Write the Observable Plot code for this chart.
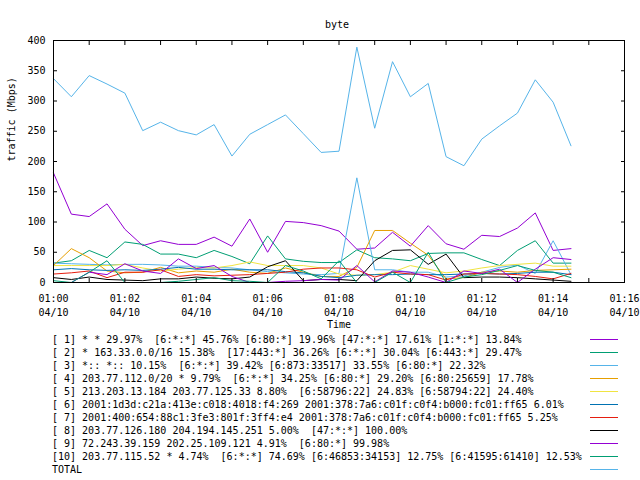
<!DOCTYPE html>
<html>
<head>
<meta charset="utf-8">
<script src="https://cdn.jsdelivr.net/npm/d3@7"></script>
<script src="https://cdn.jsdelivr.net/npm/@observablehq/plot@0.6"></script>
<style>
  html, body { margin: 0; padding: 0; background: #fff; }
  #wrap { width: 640px; height: 480px; position: relative; overflow: hidden; }
  #wrap svg { display: block; }
  .legend { position: relative; width: 640px; font-family: "DejaVu Sans Mono", monospace; font-size: 10px; color: #000; }
  .row { position: relative; height: 13px; line-height: 13px; white-space: pre; padding-left: 52px; }
  .sw { position: absolute; left: 590px; width: 28px; top: 6px; height: 0; border-top: 1px solid; }
</style>
</head>
<body>
<div id="wrap"></div>
<script>
// ---- data ----
const day = "2024-04-10";
const times = ["01:00:00","01:00:30","01:01:00","01:01:30","01:02:00","01:02:30","01:03:00","01:03:30","01:04:00","01:04:30",
               "01:05:00","01:05:30","01:06:00","01:06:30","01:07:00","01:07:30","01:08:00","01:08:30","01:09:00","01:09:30",
               "01:10:00","01:10:30","01:11:00","01:11:30","01:12:00","01:12:30","01:13:00","01:13:30","01:14:00","01:14:30"];

const s1  = [181,113,109,130,88,61,69,63,63,75,60,105,50,101,99,94,85,55,57,83,60,94,64,55,78,76,90,115,53,56];
const s2  = [32,36,53,41,67,63,47,47,41,53,43,31,77,39,35,33,33,54,41,39,36,48,49,49,38,28,53,69,32,32];
const s3  = [32,31,30,29,30,30,29,27,27,25,24,21,18,16,14,13,15,173,21,21,17,17,9,11,17,25,29,15,69,13];
const s4  = [28,56,41,19,16,17,25,16,19,17,22,17,15,24,17,10,10,25,86,86,65,45,6,8,17,19,17,20,21,22];
const s5  = [28,28,28,28,30,24,19,22,25,24,28,34,28,28,28,24,14,12,13,17,28,22,16,19,24,28,30,32,27,27];
const s6  = [21,23,21,20,21,20,22,25,22,22,21,21,21,18,16,10,8,12,13,13,14,13,13,14,15,14,15,17,17,13];
const s7  = [14,16,19,8,17,17,21,10,13,11,12,13,15,17,22,24,24,21,9,17,14,13,4,14,15,14,13,10,6,15];
const s8  = [8,5,9,5,4,3,6,6,9,7,6,9,26,36,3,5,5,3,36,53,54,30,47,8,9,9,8,6,4,2];
const s9  = [0,0,17,13,31,19,15,39,23,28,10,0,0,2,3,5,4,28,1,19,17,9,0,19,15,22,0,22,41,38];
const s10 = [3,0,17,36,0,0,0,2,5,8,3,2,0,28,19,6,36,0,0,17,0,50,0,9,13,20,28,20,17,8];
const total = [337,307,342,328,313,251,265,251,244,261,209,245,261,277,246,215,217,389,255,365,307,329,208,193,237,259,280,335,298,226];

const seriesNames = ["[ 1]","[ 2]","[ 3]","[ 4]","[ 5]","[ 6]","[ 7]","[ 8]","[ 9]","[10]","TOTAL"];
const seriesValues = [s1,s2,s3,s4,s5,s6,s7,s8,s9,s10,total];
const seriesColors = ["#9400d3","#009e73","#56b4e9","#e69f00","#f0e442","#0072b2","#e51e10","#000000","#9400d3","#009e73","#56b4e9"];
const legendLabels = [
  "[ 1] * * 29.97%  [6:*:*] 45.76% [6:80:*] 19.96% [47:*:*] 17.61% [1:*:*] 13.84%",
  "[ 2] * 163.33.0.0/16 15.38%  [17:443:*] 36.26% [6:*:*] 30.04% [6:443:*] 29.47%",
  "[ 3] *:: *:: 10.15%  [6:*:*] 39.42% [6:873:33517] 33.55% [6:80:*] 22.32%",
  "[ 4] 203.77.112.0/20 * 9.79%  [6:*:*] 34.25% [6:80:*] 29.20% [6:80:25659] 17.78%",
  "[ 5] 213.203.13.184 203.77.125.33 8.80%  [6:58796:22] 24.83% [6:58794:22] 24.40%",
  "[ 6] 2001:1d3d:c21a:413e:c018:4018:f4:269 2001:378:7a6:c01f:c0f4:b000:fc01:ff65 6.01%",
  "[ 7] 2001:400:654:88c1:3fe3:801f:3ff4:e4 2001:378:7a6:c01f:c0f4:b000:fc01:ff65 5.25%",
  "[ 8] 203.77.126.180 204.194.145.251 5.00%  [47:*:*] 100.00%",
  "[ 9] 72.243.39.159 202.25.109.121 4.91%  [6:80:*] 99.98%",
  "[10] 203.77.115.52 * 4.74%  [6:*:*] 74.69% [6:46853:34153] 12.75% [6:41595:61410] 12.53%",
  "TOTAL"
];
const yTicks = [0,50,100,150,200,250,300,350,400];
const xStart = "01:00:00", xEnd = "01:16:00";
const majorTickTimes = ["01:00","01:02","01:04","01:06","01:08","01:10","01:12","01:14","01:16"];
const minorTickTimes = ["01:00","01:01","01:02","01:03","01:04","01:05","01:06","01:07","01:08","01:09","01:10","01:11","01:12","01:13","01:14","01:15","01:16"];

// ---- build ----
const toDate = t => new Date(`${day}T${t.length === 5 ? t + ":00" : t}Z`);
const data = [];
seriesValues.forEach((vals, si) => {
  vals.forEach((v, i) => data.push({series: seriesNames[si], time: toDate(times[i]), value: v}));
});
const fmtHM = d3.utcFormat("%H:%M"), fmtMD = d3.utcFormat("%m/%d");

const chart = Plot.plot({
  width: 640,
  height: 333,
  marginTop: 40,
  marginLeft: 53,
  marginRight: 16,
  marginBottom: 51,
  style: {fontFamily: "'DejaVu Sans Mono', monospace", fontSize: "10px", background: "#fff", color: "#000"},
  x: {type: "utc", domain: [toDate(xStart), toDate(xEnd)]},
  y: {domain: [0, 400]},
  color: {domain: seriesNames, range: seriesColors},
  marks: [
    Plot.lineY(data, {x: "time", y: "value", z: "series", stroke: "series", strokeWidth: 1}),
    Plot.frame({stroke: "#000", strokeWidth: 1}),
    Plot.axisY({ticks: yTicks, tickSize: 0, tickPadding: 8, label: null, tickFormat: d => String(d)}),
    Plot.axisY({ticks: yTicks, tickSize: -4, fill: "none", label: null}),
    Plot.axisY({anchor: "right", ticks: yTicks, tickSize: -4, fill: "none", label: null}),
    Plot.axisX({ticks: majorTickTimes.map(toDate), tickSize: 0, tickPadding: 10, lineHeight: 1.4, label: null,
                tickFormat: d => fmtHM(d) + "\n" + fmtMD(d)}),
    Plot.axisX({ticks: minorTickTimes.map(toDate), tickSize: -4, fill: "none", label: null}),
    Plot.axisX({anchor: "top", ticks: minorTickTimes.map(toDate), tickSize: -4, fill: "none", label: null}),
    Plot.text(["byte"], {frameAnchor: "top", dy: -20, dx: -2}),
    Plot.text(["Time"], {frameAnchor: "bottom", dy: 45}),
    Plot.text(["traffic (Mbps)"], {frameAnchor: "left", dx: -42, rotate: -90})
  ]
});
const wrap = document.getElementById("wrap");
wrap.appendChild(chart);

const legend = document.createElement("div");
legend.className = "legend";
legendLabels.forEach((lab, i) => {
  const row = document.createElement("div");
  row.className = "row";
  row.textContent = lab;
  const sw = document.createElement("div");
  sw.className = "sw";
  sw.style.borderTopColor = seriesColors[i];
  row.appendChild(sw);
  legend.appendChild(row);
});
wrap.appendChild(legend);
</script>
</body>
</html>
